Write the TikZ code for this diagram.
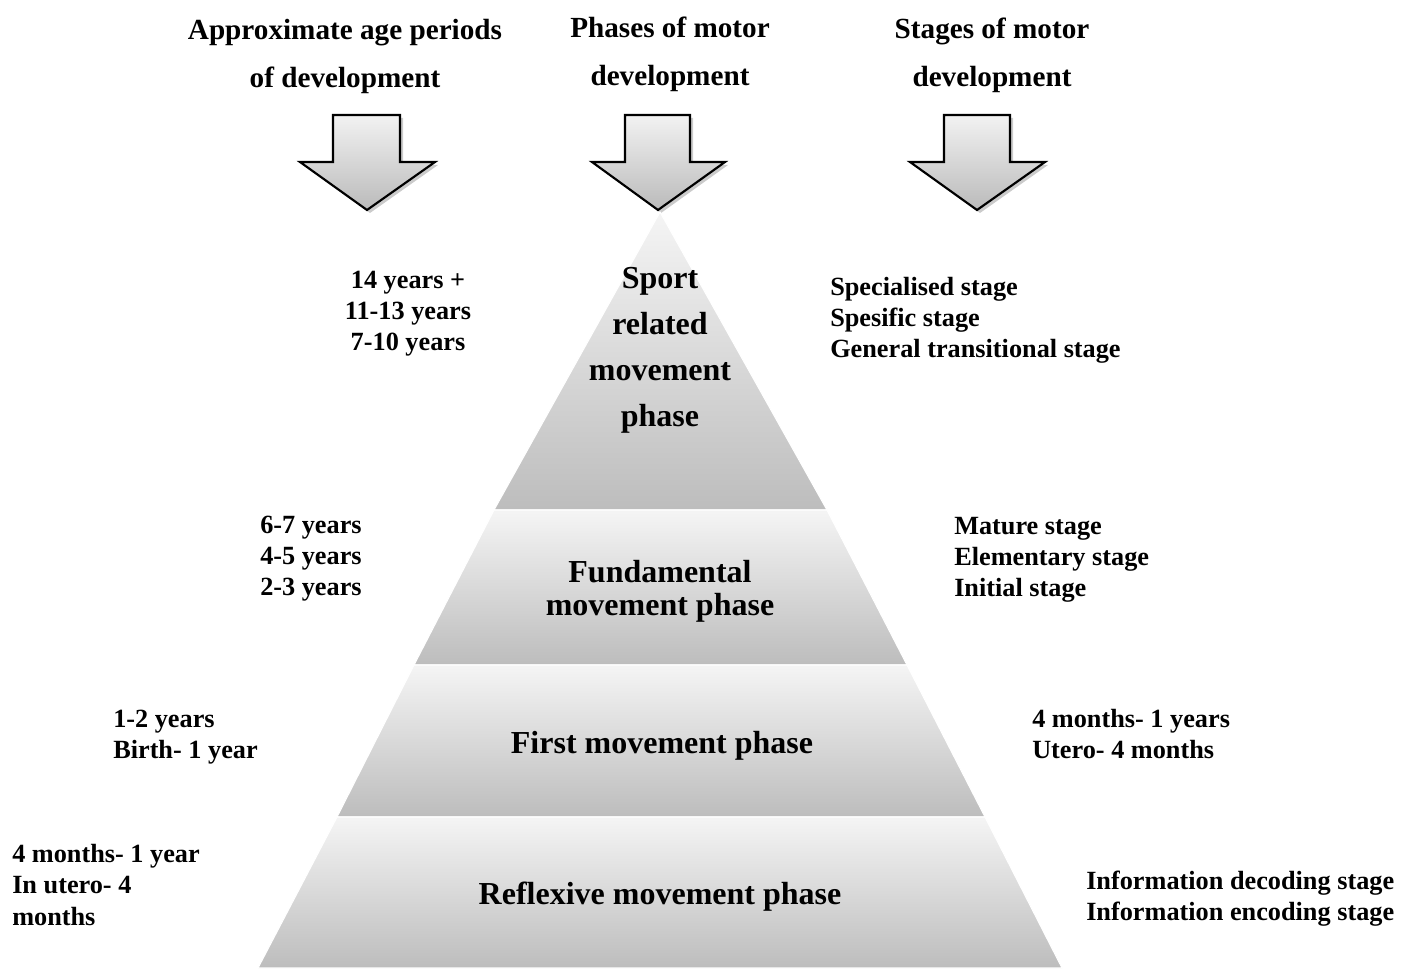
\documentclass[tikz,border=0pt]{standalone}
\usepackage{fontspec}
\setmainfont{Liberation Serif}
\usepackage{tikz}

\begin{document}
\begin{tikzpicture}[x=0.75pt,y=0.75pt,yscale=-1,xscale=1,
  head/.style={font=\bfseries\fontsize{21.9}{36}\selectfont, align=center, inner sep=0pt},
  note/.style={font=\bfseries\fontsize{19.7}{23.3}\selectfont, align=left, anchor=west, inner sep=0pt},
  phase/.style={font=\bfseries\fontsize{24}{34.5}\selectfont, align=center, inner sep=0pt},
  downarrow/.style={draw=black, line width=1.6, line join=miter, top color=black!5, bottom color=black!27},
  arrowshadow/.style={fill=black!45, opacity=0.45},
  layer/.style={top color=black!4, bottom color=black!26, draw=white, line width=0.8}]
\useasboundingbox (0,0) rectangle (1406,969);

%Titles
\node[head] (agehead) at (345,56) {Approximate age periods\\of development};
\node[head] (phasehead) at (670,54) {Phases of motor\\development};
\node[head] (stagehead) at (992,55) {Stages of motor\\development};

%Down Arrow (left)
\fill [arrowshadow] (336,118) -- (403,118) -- (403,165) -- (438,165) -- (370,213) -- (303,165) -- (336,165) -- cycle ;
\shade [downarrow] (333,115) -- (400,115) -- (400,162) -- (435,162) -- (367,210) -- (300,162) -- (333,162) -- cycle ;
%Down Arrow (middle)
\fill [arrowshadow] (628,118) -- (693,118) -- (693,165) -- (728,165) -- (661,213) -- (595,165) -- (628,165) -- cycle ;
\shade [downarrow] (625,115) -- (690,115) -- (690,162) -- (725,162) -- (658,210) -- (592,162) -- (625,162) -- cycle ;
%Down Arrow (right)
\fill [arrowshadow] (947,118) -- (1013,118) -- (1013,165) -- (1048,165) -- (980,213) -- (913,165) -- (947,165) -- cycle ;
\shade [downarrow] (944,115) -- (1010,115) -- (1010,162) -- (1045,162) -- (977,210) -- (910,162) -- (944,162) -- cycle ;

%Pyramid layers
\shade [layer] (660,212) -- (827,510) -- (494,510) -- cycle ;
\shade [layer] (494,510) -- (827,510) -- (907,665) -- (414,665) -- cycle ;
\shade [layer] (414,665) -- (907,665) -- (985,817) -- (337,817) -- cycle ;
\shade [layer] (337,817) -- (985,817) -- (1062,968) -- (258,968) -- cycle ;

%Sport related level
\node[phase] (sport) at (660,350) {Sport\\related\\movement\\phase};
\node[note, align=center, anchor=center] (olderage) at (408,314) {14 years +\\11-13 years\\7-10 years};
\node[note] (sportstage) at (830,320) {Specialised stage\\Spesific stage\\General transitional stage};

%Fundamental level
\node[phase, font=\bfseries\fontsize{24}{25}\selectfont] (fundamental) at (660,591) {Fundamental\\movement phase};
\node[note] (childage) at (260,559) {6-7 years\\4-5 years\\2-3 years};
\node[note] (fundstage) at (954,560) {Mature stage\\Elementary stage\\Initial stage};

%First level
\node[phase] (first) at (662,746) {First movement phase};
\node[note] (infantage) at (113,737) {1-2 years\\Birth- 1 year};
\node[note] (firststage) at (1032,734) {4 months- 1 years\\Utero- 4 months};

%Reflexive level
\node[phase] (reflexive) at (660,897) {Reflexive movement phase};
\node[note] (uteroage) at (12,885) {4 months- 1 year\\In utero- 4\\months};
\node[note] (reflexstage) at (1086,899) {Information decoding stage\\Information encoding stage};
\end{tikzpicture}
\end{document}
